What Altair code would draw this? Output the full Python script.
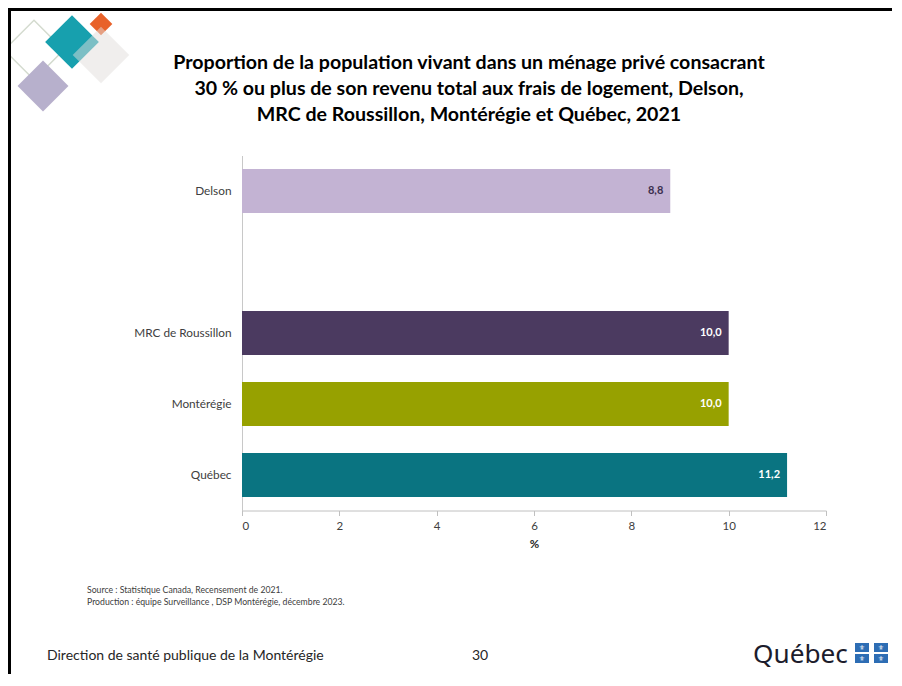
import altair as alt
import pandas as pd

categories = ["Delson", "MRC de Roussillon", "Montérégie", "Québec"]
values = [8.8, 10.0, 10.0, 11.2]
value_labels = ["8,8", "10,0", "10,0", "11,2"]
bar_colors = ["#c3b3d3", "#4b3a60", "#97a100", "#0a7481"]
label_colors = ["#3b2f4f", "#ffffff", "#ffffff", "#ffffff"]
y_domain = ["Delson", " ", "MRC de Roussillon", "Montérégie", "Québec"]
x_ticks = [0, 2, 4, 6, 8, 10, 12]

title_lines = [
    "Proportion de la population vivant dans un ménage privé consacrant",
    "30 % ou plus de son revenu total aux frais de logement, Delson,",
    "MRC de Roussillon, Montérégie et Québec, 2021",
]
source_lines = [
    "Source : Statistique Canada, Recensement de 2021.",
    "Production : équipe Surveillance , DSP Montérégie, décembre 2023.",
]
footer_left = "Direction de santé publique de la Montérégie"
footer_page = "30"
logo_text = "Québec"

df = pd.DataFrame({
    "cat": categories,
    "value": values,
    "label": value_labels,
    "lcolor": label_colors,
})

FONT = "Lato"
X0, Y0 = 242, 155.5
W, H = 584, 355


def px(x):
    return x - X0


def py(y):
    return y - Y0


one = pd.DataFrame({"a": [0]})

x_enc = alt.X(
    "value:Q",
    scale=alt.Scale(domain=[0, 12], nice=False),
    axis=alt.Axis(
        values=x_ticks, title="%", titleFont=FONT, titleFontSize=11.5,
        titleFontWeight="bold", titleColor="#262626", titlePadding=6,
        labelFont=FONT, labelFontSize=11.5, labelColor="#404040",
        labelPadding=5, domainColor="#c0c0c0", tickColor="#c0c0c0",
        tickSize=5, grid=False,
    ),
)
y_enc = alt.Y(
    "cat:N",
    scale=alt.Scale(domain=y_domain, paddingInner=0.38, paddingOuter=0.19),
    axis=alt.Axis(
        title=None, ticks=False, labelFont=FONT, labelFontSize=11.8,
        labelColor="#404040", labelPadding=11, domainColor="#c8c8c8",
    ),
)

bars = alt.Chart(df).mark_bar().encode(
    x=x_enc,
    y=y_enc,
    color=alt.Color("cat:N", scale=alt.Scale(domain=categories, range=bar_colors), legend=None),
)

bar_text = alt.Chart(df).mark_text(
    align="right", baseline="middle", dx=-7, font=FONT, fontSize=11, fontWeight="bold"
).encode(
    x="value:Q",
    y=alt.Y("cat:N"),
    text="label:N",
    color=alt.Color("lcolor:N", scale=None),
)

layers = [bars, bar_text]


def square(cx, cy, side, color, opacity=1.0, filled=True, stroke=None, sw=0):
    kw = dict(angle=45, opacity=opacity, filled=filled)
    if filled:
        kw["fill"] = color
        kw["strokeWidth"] = 0
    else:
        kw["stroke"] = stroke
        kw["strokeWidth"] = sw
    return alt.Chart(one).mark_square(**kw).encode(
        x=alt.value(px(cx)), y=alt.value(py(cy)), size=alt.value(side * side)
    )


layers += [
    square(34, 50, 42, None, filled=False, stroke="#d3dace", sw=1.5),
    square(43, 86, 36, "#b7b0cc"),
    square(72, 42, 38, "#17a0ae"),
    square(101, 24, 16, "#e8622a"),
    square(101, 55, 40, "#e2dedb", opacity=0.5),
]


def text(t, x, y, size, align="left", weight="normal", color="#262626",
         baseline="middle", font=FONT):
    return alt.Chart(pd.DataFrame({"t": [t]})).mark_text(
        align=align, baseline=baseline, font=font, fontSize=size,
        fontWeight=weight, color=color,
    ).encode(x=alt.value(px(x)), y=alt.value(py(y)), text="t:N")


for i, line in enumerate(title_lines):
    layers.append(text(line, 469, 63 + 26 * i, 19.6, align="center", weight="bold", color="#000000"))

layers += [
    text(source_lines[0], 87, 590, 8.7, color="#404040"),
    text(source_lines[1], 87, 602, 8.7, color="#404040"),
    text(footer_left, 47, 656, 14, color="#262626"),
    text(footer_page, 480, 656, 14, align="center", color="#262626"),
    text(logo_text, 753, 663, 26.2, color="#1c1c2c", baseline="alphabetic", font="Noto Sans"),
]

# flag of the logo
for (fx, fy) in [(855, 643), (874, 643), (855, 654), (874, 654)]:
    layers.append(
        alt.Chart(one).mark_rect(color="#2d6db4").encode(
            x=alt.value(px(fx)), x2=alt.value(px(fx + 14)),
            y=alt.value(py(fy)), y2=alt.value(py(fy + 9)),
        )
    )
    layers.append(
        alt.Chart(pd.DataFrame({"t": ["⚜"]})).mark_text(
            color="#ffffff", fontSize=7, font="DejaVu Sans", baseline="middle", align="center"
        ).encode(x=alt.value(px(fx + 7)), y=alt.value(py(fy + 4.5)), text="t:N")
    )

# slide border
layers += [
    alt.Chart(one).mark_rule(color="#000000", strokeWidth=3).encode(
        x=alt.value(px(8)), x2=alt.value(px(894)), y=alt.value(py(9.5)),
    ),
    alt.Chart(one).mark_rule(color="#000000", strokeWidth=3).encode(
        x=alt.value(px(9.5)), y=alt.value(py(8)), y2=alt.value(py(678)),
    ),
]

chart = alt.layer(*layers).properties(
    width=W,
    height=H,
    autosize=alt.AutoSizeParams(type="none"),
    padding={"left": X0 - 8, "top": Y0 - 8, "right": 884 - (X0 - 8) - W, "bottom": 666 - (Y0 - 8) - H},
).configure(background="#ffffff").configure_view(stroke=None)

chart.save("out.html", embed_options={"renderer": "svg", "actions": False})
